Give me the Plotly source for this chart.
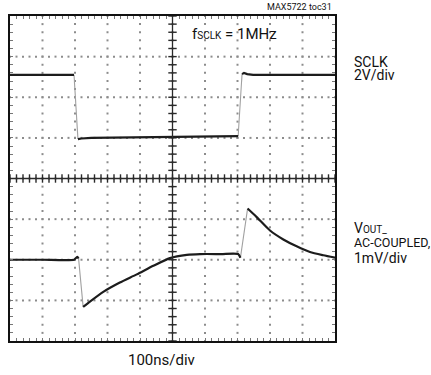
import numpy as np
import plotly.graph_objects as go

# Time base: 100 ns/div, 10 divisions
T_RANGE = [0, 1000]

# SCLK channel (2 V/div)
t_sclk = [0, 100, 197, 209, 220, 250, 400, 500, 600, 702, 714, 720, 730, 748, 850, 1000]
v_sclk = [3.10, 3.10, 3.10, -0.06, -0.03, 0.0, 0.04, 0.05, 0.07, 0.09, 3.14, 3.20, 3.14, 3.10, 3.10, 3.10]

# VOUT_ channel, AC-coupled (1 mV/div)
t_vout = [0, 100, 197, 201, 207, 211, 225, 246, 287, 338, 390, 441, 492, 544, 585,
          650, 702, 709, 731, 759, 800, 841, 882, 923, 964, 1000]
v_vout = [0.0, 0.0, 0.0, 0.03, 0.07, 0.03, -1.16, -1.03, -0.79, -0.56, -0.36, -0.15, 0.04, 0.12, 0.14,
          0.14, 0.14, 0.05, 1.26, 1.05, 0.72, 0.50, 0.33, 0.19, 0.11, 0.05]

SCLK_RANGE = [-10, 6]   # volts, 0 V sits one division above centre
VOUT_RANGE = [-2, 6]    # mV, baseline two divisions below centre

W, H = 431, 375
L, R, T, B = 10, 96, 16, 34

TRACE = "#1c1c1c"
EDGE = "#a0a0a0"
GRID = "#8c8c8c"
AXIS = "#2a2a2a"


def split_edges(t, v, thresh):
    """Return (levels, edges): fast transitions are drawn thin and light, as on a scope."""
    lev_t, lev_v, edg_t, edg_v = [], [], [], []
    for i in range(len(t) - 1):
        slope = abs(v[i + 1] - v[i]) / (t[i + 1] - t[i])
        if slope > thresh:
            edg_t += [t[i], t[i + 1], None]
            edg_v += [v[i], v[i + 1], None]
            lev_t += [None]
            lev_v += [None]
        else:
            if lev_t and lev_t[-1] == t[i]:
                lev_t += [t[i + 1]]
                lev_v += [v[i + 1]]
            else:
                lev_t += [t[i], t[i + 1]]
                lev_v += [v[i], v[i + 1]]
    return lev_t, lev_v, edg_t, edg_v


fig = go.Figure()

# Dotted graticule (dots every 1/5 division)
x0, x1 = T_RANGE
y0, y1 = SCLK_RANGE
xdiv = (x1 - x0) / 10
ydiv = (y1 - y0) / 8
gx, gy = [], []
for k in range(1, 10):
    ys = np.arange(y0, y1 + 1e-9, ydiv / 5)
    gx += [x0 + k * xdiv] * len(ys)
    gy += list(ys)
for k in range(1, 8):
    xs = np.arange(x0, x1 + 1e-9, xdiv / 5)
    gx += list(xs)
    gy += [y0 + k * ydiv] * len(xs)
fig.add_trace(go.Scatter(x=gx, y=gy, mode="markers", hoverinfo="skip",
                         marker=dict(symbol="square", size=2, color=GRID, line_width=0)))

# Centre cross with sub-division ticks
xc = (x0 + x1) / 2
yc = (y0 + y1) / 2
fig.add_shape(type="line", x0=xc, x1=xc, y0=y0, y1=y1, xref="x", yref="y",
              line=dict(color=AXIS, width=1.3))
fig.add_shape(type="line", x0=x0, x1=x1, y0=yc, y1=yc, xref="x", yref="y",
              line=dict(color=AXIS, width=1.3))
ty = np.arange(y0, y1 + 1e-9, ydiv / 5)
fig.add_trace(go.Scatter(x=[xc] * len(ty), y=ty, mode="markers", hoverinfo="skip",
                         marker=dict(symbol="line-ew", size=6, line=dict(color=AXIS, width=1.4))))
tx = np.arange(x0, x1 + 1e-9, xdiv / 5)
fig.add_trace(go.Scatter(x=tx, y=[yc] * len(tx), mode="markers", hoverinfo="skip",
                         marker=dict(symbol="line-ns", size=6, line=dict(color=AXIS, width=1.4))))

# SCLK trace
lt, lv, et, ev = split_edges(t_sclk, v_sclk, 0.05)
fig.add_trace(go.Scatter(x=et, y=ev, mode="lines", line=dict(color=EDGE, width=1.1), yaxis="y"))
fig.add_trace(go.Scatter(x=lt, y=lv, mode="lines", line=dict(color=TRACE, width=2.2), yaxis="y"))

# VOUT trace
lt, lv, et, ev = split_edges(t_vout, v_vout, 0.03)
fig.add_trace(go.Scatter(x=et, y=ev, mode="lines", line=dict(color=EDGE, width=1.1), yaxis="y2"))
fig.add_trace(go.Scatter(x=lt, y=lv, mode="lines", yaxis="y2",
                         line=dict(color=TRACE, width=2.2, shape="spline", smoothing=0.6)))

FONT = "Roboto, Liberation Sans, sans-serif"


def px(xp):
    return (xp - L) / (W - L - R)


def py(yp):
    return (H - B - yp) / (H - T - B)


ann = [
    dict(text="f<span style='font-size:10px'>SCLK</span> = 1MHz", x=px(190), y=py(34), xanchor="left", size=15),
    dict(text="MAX5722 toc31", x=px(334), y=py(6.5), xanchor="right", size=9),
    dict(text="SCLK", x=px(352), y=py(61.5), xanchor="left", size=14),
    dict(text="2V/div", x=px(352), y=py(75), xanchor="left", size=14),
    dict(text="V<span style='font-size:10px'>OUT_</span>", x=px(352), y=py(227.5), xanchor="left", size=14),
    dict(text="AC-COUPLED,", x=px(352), y=py(242), xanchor="left", size=12.5),
    dict(text="1mV/div", x=px(352), y=py(258), xanchor="left", size=14),
    dict(text="100ns/div", x=px(161.5), y=py(359.5), xanchor="center", size=15),
]
annotations = []
for a in ann:
    annotations.append(dict(text=a["text"], x=a["x"], y=a["y"], xref="paper", yref="paper",
                            xanchor=a["xanchor"], yanchor="middle", showarrow=False,
                            font=dict(family=FONT, size=a["size"], color="#111111")))

axis_common = dict(showgrid=False, zeroline=False, showticklabels=False,
                   showline=True, linecolor="#111111", linewidth=2.4, mirror="allticks",
                   ticks="inside", ticklen=3, tickcolor="#777777", tickwidth=1)

fig.update_layout(
    width=W, height=H,
    margin=dict(l=L, r=R, t=T, b=B, pad=0),
    paper_bgcolor="white", plot_bgcolor="white",
    showlegend=False,
    annotations=annotations,
    xaxis=dict(range=T_RANGE, dtick=100, minor=dict(dtick=20, ticks="inside", ticklen=3,
                                                     tickcolor="#777777"), **axis_common),
    yaxis=dict(range=SCLK_RANGE, dtick=2, minor=dict(dtick=0.4, ticks="inside", ticklen=3,
                                                      tickcolor="#777777"), **axis_common),
    yaxis2=dict(range=VOUT_RANGE, overlaying="y", showgrid=False, zeroline=False,
                showticklabels=False, showline=False, ticks=""),
)

fig.write_html("out.html")
